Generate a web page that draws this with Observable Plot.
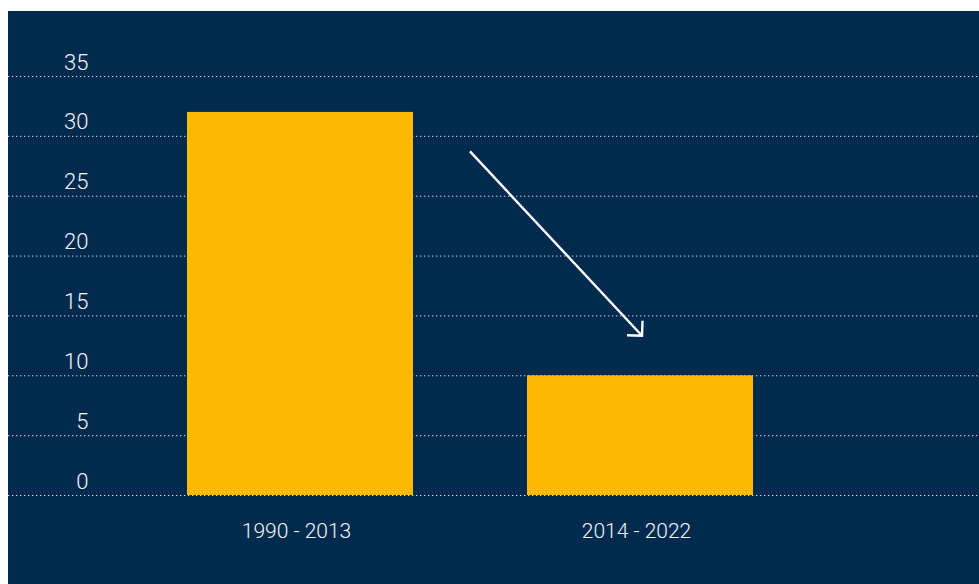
<!DOCTYPE html>
<html>
<head>
<meta charset="utf-8">
<script src="https://cdn.jsdelivr.net/npm/d3@7"></script>
<script src="https://cdn.jsdelivr.net/npm/@observablehq/plot@0.6"></script>
<style>
  html, body { margin: 0; padding: 0; background: #ffffff; }
  #panel { position: absolute; left: 8px; top: 11px; width: 971px; height: 573px; background: #012b4e; overflow: hidden; }
</style>
</head>
<body>
<div id="panel"></div>
<script>
// Data
const categories = ["1990 - 2013", "2014 - 2022"];
const values = [32, 10];
const yTicks = [0, 5, 10, 15, 20, 25, 30, 35];
// Arrow annotation: starts midway between the two bars, ends over the second bar
const arrowStartValue = 28.7;
const arrowEndValue = 13.3;

const data = categories.map((c, i) => ({period: c, value: values[i]}));

function arrowMark(index, scales) {
  const x = scales.x, y = scales.y;
  const bw = typeof x.bandwidth === "function" ? x.bandwidth() : (x.bandwidth || 0);
  const c1 = x(categories[0]) + bw / 2;
  const c2 = x(categories[1]) + bw / 2;
  const x1 = (c1 + c2) / 2, x2 = c2 + 2;
  const y1 = y(arrowStartValue), y2 = y(arrowEndValue);
  const ang = Math.atan2(y2 - y1, x2 - x1);
  const hl = 15;
  const a1 = ang + Math.PI - Math.PI / 4;
  const a2 = ang + Math.PI + Math.PI / 4;
  const g = d3.create("svg:g")
    .attr("stroke", "#ffffff")
    .attr("stroke-width", 2.4)
    .attr("fill", "none");
  g.append("path").attr("d",
    `M${x1},${y1}L${x2},${y2}` +
    `M${x2 + hl * Math.cos(a1)},${y2 + hl * Math.sin(a1)}L${x2},${y2}L${x2 + hl * Math.cos(a2)},${y2 + hl * Math.sin(a2)}`);
  return g.node();
}

const chart = Plot.plot({
  width: 971,
  height: 573,
  marginTop: 65,
  marginBottom: 89,
  marginLeft: 0,
  marginRight: 0,
  style: {background: "transparent", fontFamily: "Roboto, Lato, sans-serif", color: "#ffffff", overflow: "visible"},
  x: {domain: categories, range: [65, 859], padding: 0.335, axis: null},
  y: {domain: [0, 35], axis: null},
  marks: [
    Plot.ruleY(yTicks, {stroke: "#ffffff", strokeOpacity: 0.85, strokeWidth: 1, strokeDasharray: "1.3,2.7"}),
    Plot.barY(data, {x: "period", y: "value", fill: "#fbb900"}),
    Plot.text(yTicks, {y: d => d, text: d => String(d), frameAnchor: "left", dx: 80, dy: -7,
      textAnchor: "end", lineAnchor: "bottom", fontSize: 22, fontWeight: 300, fill: "#f2f5f8"}),
    Plot.text(categories, {x: d => d, text: d => d, frameAnchor: "bottom", dy: 42, dx: -4,
      lineAnchor: "bottom", fontSize: 21, fontWeight: 300, fill: "#f2f5f8"}),
    arrowMark
  ]
});
document.getElementById("panel").appendChild(chart);
</script>
</body>
</html>
